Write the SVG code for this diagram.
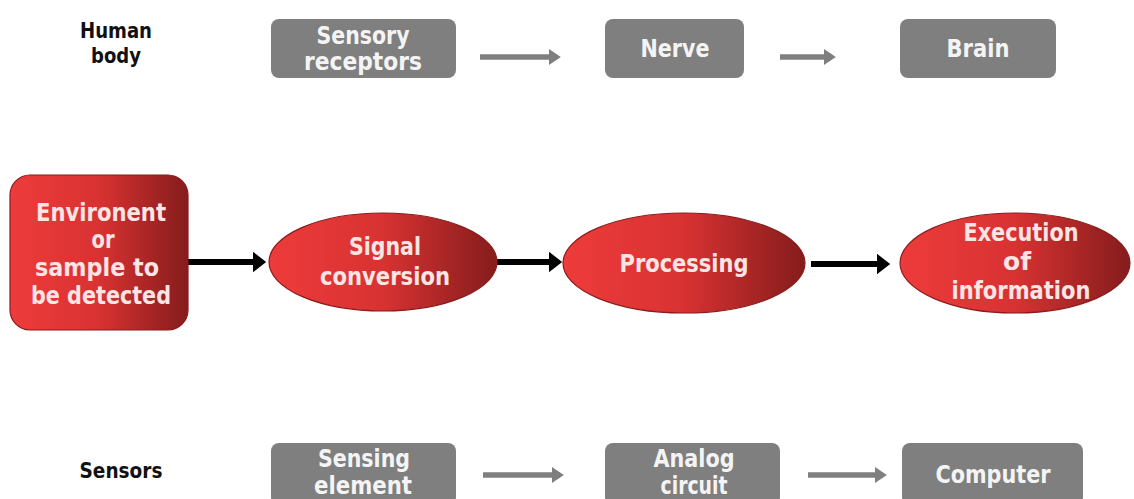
<svg xmlns="http://www.w3.org/2000/svg" width="1134" height="499" viewBox="0 0 1134 499">
<style>
.lbl{font-family:"DejaVu Sans",sans-serif;font-weight:bold;text-anchor:middle}
.dark{fill:#111;font-size:21px}
.gbox{fill:#7f7f7f}
.gt{fill:#f4f4f4;font-size:24px}
.rt{fill:#fbe4e4;font-size:24px}
.red{stroke:#8a1c1c;stroke-width:1.2}
.ga{stroke:#7f7f7f;stroke-width:5.5;fill:none}
.ba{stroke:#000;stroke-width:6;fill:none}
</style>
<defs>
<linearGradient id="rg" x1="0" y1="0" x2="1" y2="0">
<stop offset="0" stop-color="#ee3b3b"/>
<stop offset="0.5" stop-color="#d83232"/>
<stop offset="1" stop-color="#851c1c"/>
</linearGradient>
<marker id="gh" markerWidth="4" markerHeight="4" refX="1.5" refY="2" orient="auto" markerUnits="strokeWidth">
<path d="M0,0.5 L2.2,2 L0,3.5 Z" fill="#7f7f7f"/>
</marker>
<marker id="bh" markerWidth="4" markerHeight="4" refX="1.5" refY="2" orient="auto" markerUnits="strokeWidth">
<path d="M0,0.3 L2.2,2 L0,3.7 Z" fill="#000"/>
</marker>
</defs>
<rect width="1134" height="499" fill="#fff"/>

<g id="connectors">
<line class="ga" x1="480" y1="57" x2="557" y2="57" marker-end="url(#gh)"/>
<line class="ga" x1="780" y1="57" x2="832" y2="57" marker-end="url(#gh)"/>
<line class="ba" x1="188" y1="262" x2="262" y2="262" marker-end="url(#bh)"/>
<line class="ba" x1="497" y1="262" x2="558" y2="262" marker-end="url(#bh)"/>
<line class="ba" x1="811" y1="264" x2="886" y2="264" marker-end="url(#bh)"/>
<line class="ga" x1="483" y1="475" x2="560" y2="475" marker-end="url(#gh)"/>
<line class="ga" x1="808" y1="475" x2="883" y2="475" marker-end="url(#gh)"/>
</g>

<g id="human-body"><text class="lbl dark" x="116" y="38" textLength="72" lengthAdjust="spacingAndGlyphs">Human</text><text class="lbl dark" x="116" y="63" textLength="50" lengthAdjust="spacingAndGlyphs">body</text></g>
<g id="sensory-receptors"><rect class="gbox" x="271" y="19" width="185" height="59" rx="8"/><text class="lbl gt" x="363" y="44" textLength="93" lengthAdjust="spacingAndGlyphs">Sensory</text><text class="lbl gt" x="363" y="70" textLength="118" lengthAdjust="spacingAndGlyphs">receptors</text></g>
<g id="nerve"><rect class="gbox" x="605" y="19" width="139" height="59" rx="8"/><text class="lbl gt" x="675" y="57" textLength="69" lengthAdjust="spacingAndGlyphs">Nerve</text></g>
<g id="brain"><rect class="gbox" x="900" y="19" width="156" height="59" rx="8"/><text class="lbl gt" x="978" y="57" textLength="63" lengthAdjust="spacingAndGlyphs">Brain</text></g>

<g id="environment"><rect x="10" y="175" width="178" height="155" rx="20" fill="url(#rg)" class="red"/>
<text class="lbl rt" x="101" y="221" textLength="130" lengthAdjust="spacingAndGlyphs">Environent</text><text class="lbl rt" x="103" y="248" textLength="23" lengthAdjust="spacingAndGlyphs">or</text><text class="lbl rt" x="97" y="276" textLength="124" lengthAdjust="spacingAndGlyphs">sample to</text><text class="lbl rt" x="101" y="304" textLength="140" lengthAdjust="spacingAndGlyphs">be detected</text></g>
<g id="signal-conversion"><ellipse cx="383" cy="262" rx="114" ry="49" fill="url(#rg)" class="red"/>
<text class="lbl rt" x="385" y="255" textLength="72" lengthAdjust="spacingAndGlyphs">Signal</text><text class="lbl rt" x="385" y="285" textLength="130" lengthAdjust="spacingAndGlyphs">conversion</text></g>
<g id="processing"><ellipse cx="684" cy="263" rx="121" ry="50" fill="url(#rg)" class="red"/>
<text class="lbl rt" x="684" y="272" textLength="129" lengthAdjust="spacingAndGlyphs">Processing</text></g>
<g id="execution"><ellipse cx="1015" cy="263" rx="115" ry="50" fill="url(#rg)" class="red"/>
<text class="lbl rt" x="1021" y="241" textLength="115" lengthAdjust="spacingAndGlyphs">Execution</text><text class="lbl rt" x="1017" y="270" textLength="28" lengthAdjust="spacingAndGlyphs">of</text><text class="lbl rt" x="1021" y="299" textLength="139" lengthAdjust="spacingAndGlyphs">information</text></g>

<g id="sensors"><text class="lbl dark" x="121" y="478" textLength="83" lengthAdjust="spacingAndGlyphs">Sensors</text></g>
<g id="sensing-element"><rect class="gbox" x="271" y="443" width="185" height="62" rx="8"/><text class="lbl gt" x="364" y="467" textLength="92" lengthAdjust="spacingAndGlyphs">Sensing</text><text class="lbl gt" x="363" y="494" textLength="98" lengthAdjust="spacingAndGlyphs">element</text></g>
<g id="analog-circuit"><rect class="gbox" x="605" y="443" width="175" height="62" rx="8"/><text class="lbl gt" x="694" y="467" textLength="81" lengthAdjust="spacingAndGlyphs">Analog</text><text class="lbl gt" x="694" y="494" textLength="67" lengthAdjust="spacingAndGlyphs">circuit</text></g>
<g id="computer"><rect class="gbox" x="902" y="443" width="181" height="62" rx="8"/><text class="lbl gt" x="993" y="483" textLength="115" lengthAdjust="spacingAndGlyphs">Computer</text></g>
</svg>
